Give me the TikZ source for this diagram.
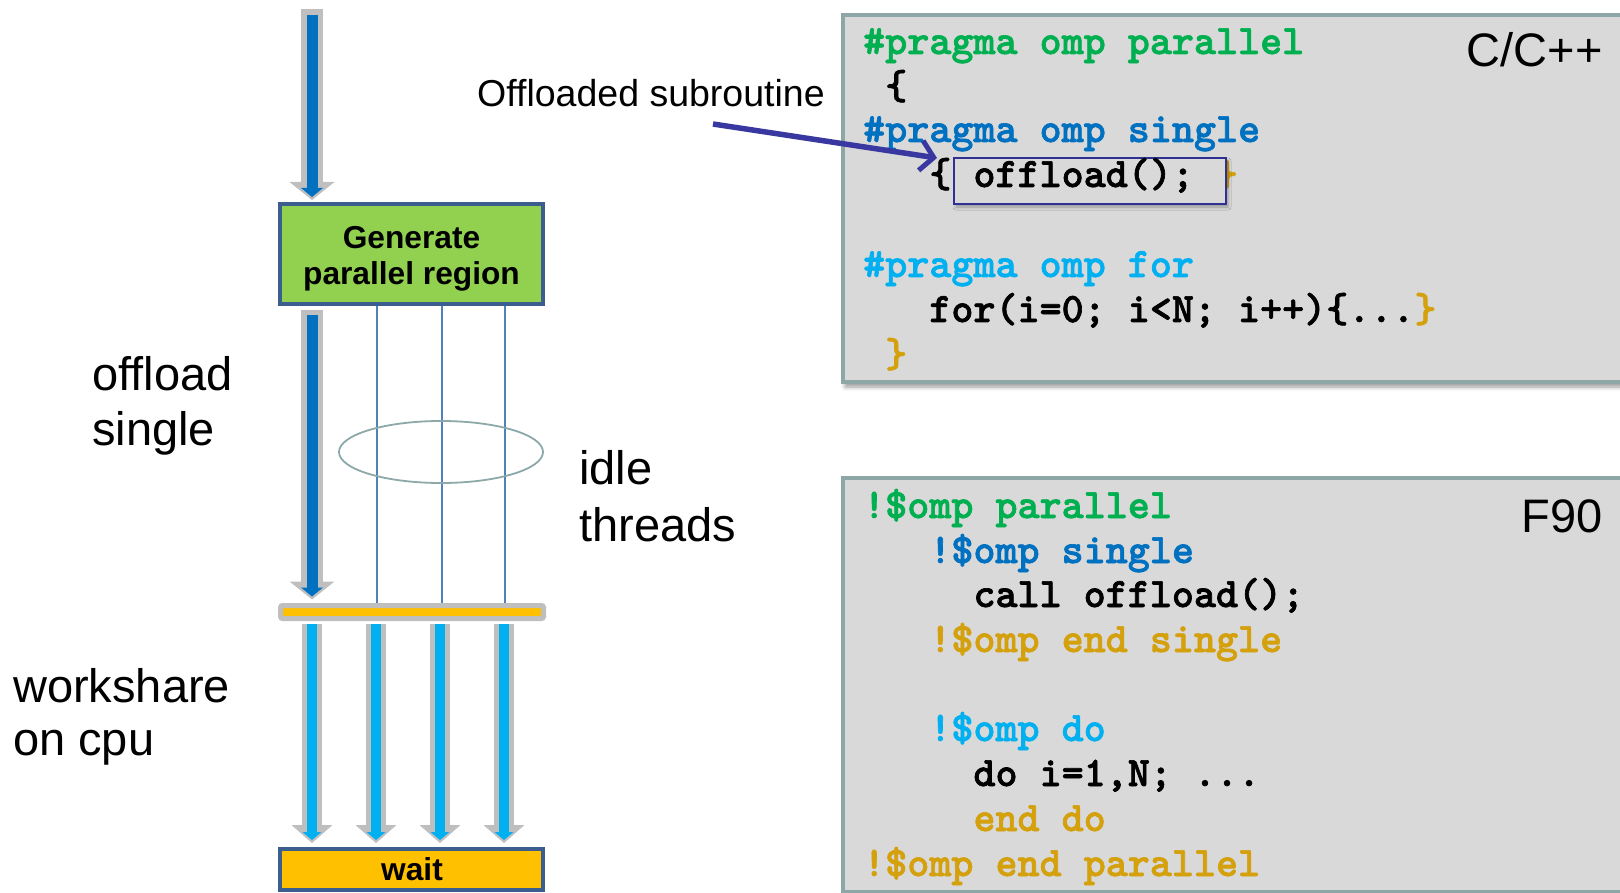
\documentclass[tikz,border=0pt]{standalone}
\usepackage{fontspec}
\setmainfont{Liberation Sans}
\newfontfamily\codefont{lmmonolt10-bold.otf}[FakeBold=1.6]
\usetikzlibrary{arrows.meta,shapes.geometric,shadows.blur}

\definecolor{codegreen}{HTML}{00B050}
\definecolor{codeblue}{HTML}{0070C0}
\definecolor{codecyan}{HTML}{00B0F0}
\definecolor{codegold}{HTML}{D4A00C}
\definecolor{codebg}{HTML}{D9D9D9}
\definecolor{codeframe}{HTML}{8DA6A6}
\definecolor{boxframe}{HTML}{3C5E8E}
\definecolor{genfill}{HTML}{92D050}
\definecolor{waitfill}{HTML}{FFC000}
\definecolor{stemgray}{HTML}{BFBFBF}
\definecolor{flowblue}{HTML}{0070C0}
\definecolor{threadline}{HTML}{4F81BD}
\definecolor{ringcolor}{HTML}{8CA8A8}
\definecolor{pointer}{HTML}{3838A0}
\definecolor{markframe}{HTML}{2E3192}

% one line of code, placed by column and baseline
\newcommand{\codeline}[5]{\node[codetext,text=#4] (#1) at ({863+#2*22.05},#3) {#5};}

\begin{document}
\begin{tikzpicture}[x=1pt,y=-1pt,
  codepanel/.style={draw=codeframe,line width=4pt,fill=codebg,inner sep=0pt,anchor=north west,
    blur shadow={shadow xshift=2pt,shadow yshift=-5pt,shadow blur radius=4pt,shadow opacity=40}},
  codetext/.style={anchor=base west,inner sep=0pt,font=\codefont\fontsize{42}{44}\selectfont},
  bigword/.style={anchor=base west,inner sep=0pt,font=\fontsize{47}{55}\selectfont},
  boxword/.style={anchor=base,inner sep=0pt,font=\bfseries\fontsize{31.7}{36}\selectfont},
  flowbox/.style={draw=boxframe,line width=4pt,inner sep=0pt,minimum width=263pt},
  thread/.style={draw=threadline,line width=1.6pt},
  graystem/.style={draw=stemgray,line width=22pt,-{Triangle[length=18pt,width=45pt,line width=0pt]}},
  bluestem/.style={draw=flowblue,line width=11pt,-{Triangle[length=9pt,width=22pt,line width=0pt]}},
  graystemb/.style={draw=stemgray,line width=20pt,-{Triangle[length=18pt,width=41pt,line width=0pt]}},
  cyanstem/.style={draw=codecyan,line width=10pt,-{Triangle[length=8pt,width=19pt,line width=0pt]}},
]
\useasboundingbox (0,0) rectangle (1620,893);
\clip (0,0) rectangle (1620,893);

% ---------- code panels ----------
\node[codepanel,minimum width=820pt,minimum height=367pt] (cpanel) at (841,13) {};
\node[codepanel,minimum width=820pt,minimum height=414pt] (fpanel) at (841,476) {};

\codeline{c1}{0}{54}{codegreen}{\#pragma omp parallel}
\codeline{c2}{1}{99}{black}{\{}
\codeline{c3}{0}{142}{codeblue}{\#pragma omp single}
\codeline{c4a}{3}{187}{black}{\{}
\codeline{c4c}{16}{187}{codegold}{\}}
\codeline{c5}{0}{277}{codecyan}{\#pragma omp for}
\codeline{c6}{3}{322}{black}{for(i=0; i<N; i++)\{...\textcolor{codegold}{\}}}
\codeline{c7}{1}{367}{codegold}{\}}

% highlighted call
\node[draw=markframe,line width=2pt,fill=codebg,inner sep=0pt,anchor=north west,
  minimum width=272pt,minimum height=46pt,
  blur shadow={shadow xshift=2pt,shadow yshift=-3pt,shadow blur radius=3pt,shadow opacity=30}]
  (mark) at (953,157) {};
\codeline{c4b}{5}{187}{black}{offload();}

\codeline{f1}{0}{518}{codegreen}{!\$omp parallel}
\codeline{f2}{3}{563}{codeblue}{!\$omp single}
\codeline{f3}{5}{607}{black}{call offload();}
\codeline{f4}{3}{652}{codegold}{!\$omp end single}
\codeline{f5}{3}{741}{codecyan}{!\$omp do}
\codeline{f6}{5}{786}{black}{do i=1,N; ...}
\codeline{f7}{5}{831}{codegold}{end do}
\codeline{f8}{0}{876}{codegold}{!\$omp end parallel}

\node[anchor=base east,inner sep=0pt,font=\fontsize{47}{55}\selectfont] (clang) at (1603,67) {C/C++};
\node[anchor=base east,inner sep=0pt,font=\fontsize{47}{55}\selectfont] (flang) at (1603,532) {F90};

% pointer to the offloaded call
\node[anchor=base west,inner sep=0pt,font=\fontsize{37.5}{44}\selectfont] (sublabel) at (477,107) {Offloaded subroutine};
\coordinate (ptail) at (713,124);
\coordinate (phead) at (937,158);
\draw[draw=pointer,line width=5.5pt,-{Straight Barb[length=13pt,width=30pt,line width=5pt]}] (ptail) -- (phead);

% ---------- execution flow ----------
\node[flowbox,fill=genfill,minimum height=100pt] (gen) at (411.5,254) {};
\node[boxword] (gen1) at (411.5,248.5) {Generate};
\node[boxword] (gen2) at (411.5,285) {parallel region};

\node[draw=stemgray,line width=5pt,fill=waitfill,rounded corners=2pt,inner sep=0pt,
  minimum width=263pt,minimum height=13pt] (bar) at (412,612) {};

\node[flowbox,fill=waitfill,minimum height=41pt] (wait) at (411.5,869.5) {};
\node[boxword] (waitlbl) at (412,880) {wait};

% idle threads
\foreach \tx/\tn in {377/t1,442/t2,505/t3}{
  \coordinate (\tn) at (\tx,0);
  \draw[thread] (gen.south -| \tn) -- (bar.north -| \tn);
}
\node[ellipse,draw=ringcolor,line width=1.8pt,inner sep=0pt,minimum width=204pt,minimum height=62pt] (idle) at (441,452) {};

% master thread: into the region and through the single
\coordinate (s0) at (312,9);
\draw[graystem,shorten >=2pt] (s0) -- (gen.north -| s0);
\draw[bluestem,shorten <=6pt,shorten >=5pt] (s0) -- (gen.north -| s0);
\draw[graystem,shorten <=4pt,shorten >=3.5pt] (gen.south -| s0) -- (bar.north -| s0);
\draw[bluestem,shorten <=9pt,shorten >=6.5pt] (gen.south -| s0) -- (bar.north -| s0);

% workshare arrows
\foreach \wx/\wn in {312/w1,376/w2,440/w3,504/w4}{
  \coordinate (\wn) at (\wx,0);
  \draw[graystemb,shorten <=2.5pt,shorten >=4pt] (bar.south -| \wn) -- (wait.north -| \wn);
  \draw[cyanstem,shorten <=3pt,shorten >=7pt] (bar.south -| \wn) -- (wait.north -| \wn);
}

% side labels
\node[bigword] (off1) at (92,390) {offload};
\node[bigword] (off2) at (92,445) {single};
\node[bigword] (ws1) at (13,702) {workshare};
\node[bigword] (ws2) at (13,755) {on cpu};
\node[bigword] (idl1) at (579,484) {idle};
\node[bigword] (idl2) at (579,541) {threads};
\end{tikzpicture}
\end{document}
